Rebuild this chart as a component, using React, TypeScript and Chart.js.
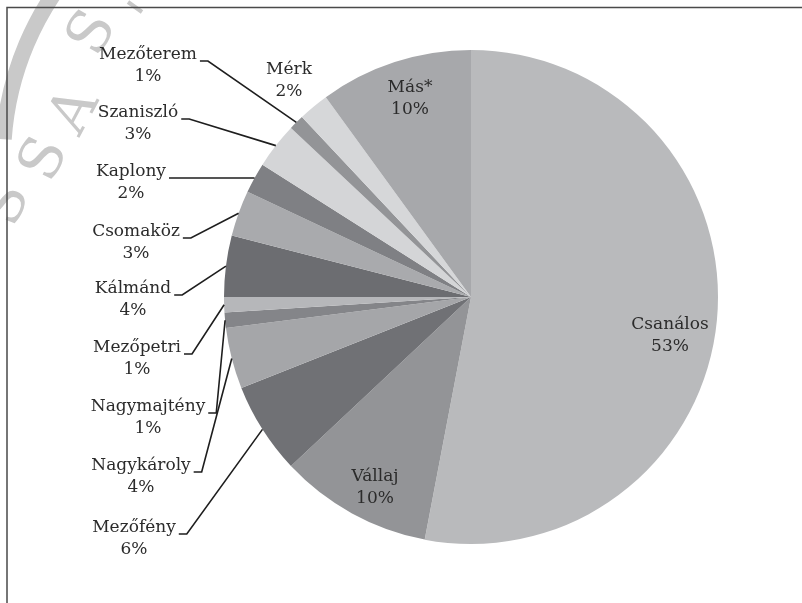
import React, { useEffect, useRef } from "react";
import { Chart, registerables } from "chart.js";

Chart.register(...registerables);

const CATEGORIES = [
  "Csanálos",
  "Vállaj",
  "Mezőfény",
  "Nagykároly",
  "Nagymajtény",
  "Mezőpetri",
  "Kálmánd",
  "Csomaköz",
  "Kaplony",
  "Szaniszló",
  "Mezőterem",
  "Mérk",
  "Más*",
];

const SHARES = [53, 10, 6, 4, 1, 1, 4, 3, 2, 3, 1, 2, 10];

const COLORS = [
  "#b9babc",
  "#939497",
  "#707175",
  "#a5a6a9",
  "#848589",
  "#b6b7ba",
  "#6c6d71",
  "#a9aaad",
  "#7f8084",
  "#d4d5d7",
  "#939497",
  "#d6d7d9",
  "#a7a8ab",
];

// Layout of the labels (text centre x, middle of the name line y, with leader line or not)
const LABEL_LAYOUT = [
  { x: 670, y: 325, leader: false },
  { x: 375, y: 477, leader: false },
  { x: 134, y: 528, leader: true },
  { x: 141, y: 466, leader: true },
  { x: 148, y: 407, leader: true },
  { x: 137, y: 348, leader: true },
  { x: 133, y: 289, leader: true },
  { x: 136, y: 232, leader: true },
  { x: 131, y: 172, leader: true },
  { x: 138, y: 113, leader: true },
  { x: 148, y: 55, leader: true },
  { x: 289, y: 70, leader: false },
  { x: 410, y: 88, leader: false },
];

const FONT = "17px 'DejaVu Serif'";
const TEXT_COLOR = "#2b2b2b";

function drawWatermark(ctx: CanvasRenderingContext2D) {
  ctx.save();
  ctx.strokeStyle = "#c9c9c9";
  ctx.fillStyle = "#c9c9c9";
  // outer ring of the stamp
  ctx.lineWidth = 16;
  ctx.beginPath();
  ctx.arc(300, 160, 297, (184 * Math.PI) / 180, (222 * Math.PI) / 180);
  ctx.stroke();
  ctx.lineWidth = 4;
  ctx.beginPath();
  ctx.moveTo(128, 2);
  ctx.lineTo(142, 12);
  ctx.stroke();
  // letters
  ctx.font = "58px 'DejaVu Serif'";
  ctx.textAlign = "center";
  ctx.textBaseline = "middle";
  const letters = [
    { ch: "S", x: 94, y: 34, r: -60 },
    { ch: "A", x: 76, y: 112, r: -62 },
    { ch: "S", x: 46, y: 160, r: -64 },
    { ch: "S", x: 8, y: 205, r: -68 },
  ];
  letters.forEach((l) => {
    ctx.save();
    ctx.translate(l.x, l.y);
    ctx.rotate((l.r * Math.PI) / 180);
    ctx.fillText(l.ch, 0, 0);
    ctx.restore();
  });
  ctx.restore();
}

const decorPlugin = {
  id: "decor",
  beforeDraw(chart: any) {
    const ctx: CanvasRenderingContext2D = chart.ctx;
    ctx.save();
    ctx.fillStyle = "#ffffff";
    ctx.fillRect(0, 0, chart.width, chart.height);
    drawWatermark(ctx);
    ctx.strokeStyle = "#4a4a4a";
    ctx.lineWidth = 1.5;
    ctx.beginPath();
    ctx.moveTo(7, chart.height);
    ctx.lineTo(7, 7.5);
    ctx.lineTo(chart.width, 7.5);
    ctx.stroke();
    ctx.restore();
  },
  afterDraw(chart: any) {
    const ctx: CanvasRenderingContext2D = chart.ctx;
    const meta = chart.getDatasetMeta(0);
    ctx.save();
    ctx.font = FONT;
    ctx.fillStyle = TEXT_COLOR;
    ctx.textAlign = "center";
    ctx.textBaseline = "middle";
    meta.data.forEach((arc: any, i: number) => {
      const lay = LABEL_LAYOUT[i];
      const name = CATEGORIES[i];
      const pct = SHARES[i] + "%";
      ctx.fillText(name, lay.x, lay.y);
      ctx.fillText(pct, lay.x, lay.y + 22);
      if (lay.leader) {
        const p = arc.getProps(["x", "y", "startAngle", "endAngle", "outerRadius"], true);
        const mid = (p.startAngle + p.endAngle) / 2;
        const ex = p.x + Math.cos(mid) * p.outerRadius;
        const ey = p.y + Math.sin(mid) * p.outerRadius;
        const w = ctx.measureText(name).width;
        const sx = lay.x + w / 2 + 3;
        const sy = lay.y + 6;
        ctx.strokeStyle = "#1e1e1e";
        ctx.lineWidth = 1.6;
        ctx.beginPath();
        ctx.moveTo(sx, sy);
        ctx.lineTo(sx + 8, sy);
        ctx.lineTo(ex, ey);
        ctx.stroke();
      }
    });
    ctx.restore();
  },
};

export default function App() {
  const ref = useRef<HTMLCanvasElement | null>(null);
  useEffect(() => {
    if (!ref.current) return;
    const chart = new Chart(ref.current, {
      type: "pie",
      data: {
        labels: CATEGORIES,
        datasets: [
          {
            data: SHARES,
            backgroundColor: COLORS,
            borderWidth: 0,
          },
        ],
      },
      options: {
        responsive: false,
        animation: false,
        devicePixelRatio: 1,
        layout: { padding: { top: 50, left: 224, right: 84, bottom: 59 } },
        plugins: {
          legend: { display: false },
          tooltip: { enabled: false },
        },
      },
      plugins: [decorPlugin],
    });
    return () => chart.destroy();
  }, []);
  return (
    <div style={{ position: "fixed", left: 0, top: 0, width: 802, height: 603, background: "#fff" }}>
      <canvas ref={ref} width={802} height={603} style={{ width: 802, height: 603, display: "block" }} />
    </div>
  );
}
